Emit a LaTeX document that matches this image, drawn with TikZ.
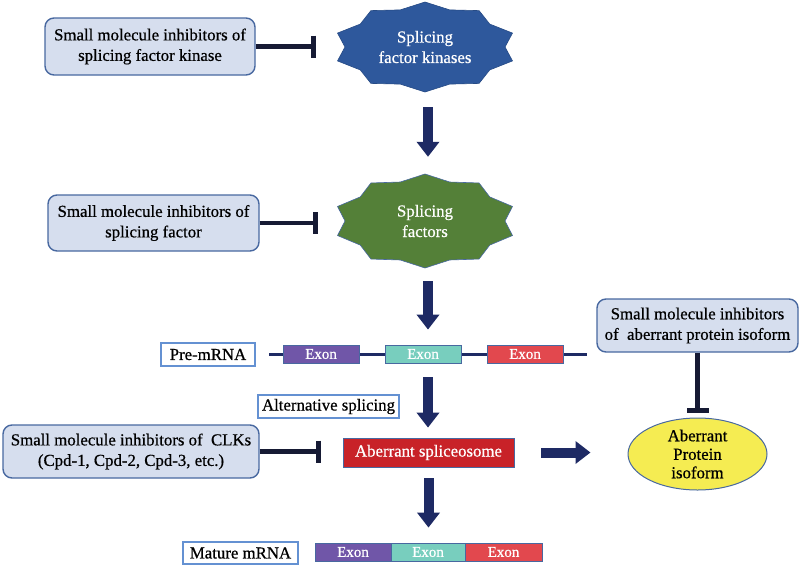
\documentclass[tikz,border=0pt]{standalone}
\usepackage{fontspec}
\setmainfont{Liberation Serif}
\newfontfamily\tnr{Liberation Serif}[FakeBold=0.6]
\usetikzlibrary{arrows.meta,shapes.geometric,calc}
\definecolor{boxfill}{RGB}{214,222,238}
\definecolor{boxline}{RGB}{72,104,160}
\definecolor{navy}{RGB}{30,42,100}
\definecolor{inhibc}{RGB}{22,26,52}
\definecolor{kinblue}{RGB}{46,88,156}
\definecolor{facgreen}{RGB}{84,128,56}
\definecolor{exonpurple}{RGB}{112,86,168}
\definecolor{exonteal}{RGB}{120,206,190}
\definecolor{exonred}{RGB}{226,72,78}
\definecolor{splred}{RGB}{200,34,40}
\definecolor{isoyellow}{RGB}{245,236,82}
\definecolor{labelline}{RGB}{100,145,210}
\begin{document}
\begin{tikzpicture}[x=1pt,y=-1pt,
 every node/.style={font=\tnr\fontsize{16.8}{20.5}\selectfont, inner sep=0pt, align=center},
 inhbox/.style={draw=boxline, fill=boxfill, line width=1.4pt, rounded corners=9pt},
 lblbox/.style={draw=labelline, fill=white, line width=1.2pt},
 exonbox/.style={draw=boxline, line width=0.8pt, minimum height=18pt, text=white, font=\tnr\fontsize{15}{16}\selectfont},
 bigarrow/.style={navy, line width=10pt, -{Triangle[width=22pt,length=15pt]}},
 inhib/.style={inhibc, line width=4.5pt, -{Bar[width=22pt,line width=4.5pt]}},
 starlbl/.style={text=white, minimum width=184pt, minimum height=90pt},
]
\useasboundingbox (0,0) rectangle (800,565);

% stars
\begin{scope}[shift={(425,47)}]
\draw[fill=kinblue, draw=kinblue!85!black, line width=0.6pt] (90:92 and 45)
  \foreach \a in {0,36,...,324}{ -- ({108+\a}:80 and 39) -- ({126+\a}:92 and 45)} -- cycle;
\end{scope}
\begin{scope}[shift={(425,221)}]
\draw[fill=facgreen, draw=boxline, line width=0.6pt] (90:92 and 47)
  \foreach \a in {0,36,...,324}{ -- ({108+\a}:80 and 41) -- ({126+\a}:92 and 47)} -- cycle;
\end{scope}
\node[starlbl] (kin) at (425,47) {Splicing\\factor kinases};
\node[starlbl, minimum height=94pt] (fac) at (425,221) {Splicing\\factors};

% inhibitor boxes
\node[inhbox, minimum width=210pt, minimum height=57pt] (inA) at (150,46.5) {Small molecule inhibitors of\\splicing factor kinase};
\node[inhbox, minimum width=211pt, minimum height=56pt] (inB) at (153.5,223) {Small molecule inhibitors of\\splicing factor};
\node[inhbox, minimum width=201pt, minimum height=53pt] (inC) at (697.5,325.5) {Small molecule inhibitors\\of~ aberrant protein isoform};
\node[inhbox, minimum width=256pt, minimum height=53pt] (inD) at (131,451.5) {Small molecule inhibitors of~ CLKs\\(Cpd-1, Cpd-2, Cpd-3, etc.)};

% pre-mRNA
\coordinate (l1) at (269,354);
\coordinate (l2) at (587,354);
\draw[navy, line width=3pt] (l1) -- (l2);
\node[exonbox, fill=exonpurple, minimum width=76pt] (ex1) at (321,354) {Exon};
\node[exonbox, fill=exonteal, minimum width=76pt] (ex2) at (423,354) {Exon};
\node[exonbox, fill=exonred, minimum width=76pt] (ex3) at (525,354) {Exon};
\node[lblbox, minimum width=94pt, minimum height=23pt] (pre) at (208,354.5) {Pre-mRNA};

\node[lblbox, minimum width=141pt, minimum height=23pt] (alt) at (328.5,406.5) {Alternative splicing};

\node[draw=boxline, line width=0.8pt, fill=splred, text=white, minimum width=171pt, minimum height=29pt] (spl) at (428.5,452.5) {Aberrant spliceosome};

% mature mRNA
\node[exonbox, fill=exonpurple, minimum width=76pt] (mx1) at (353,552) {Exon};
\node[exonbox, fill=exonteal, minimum width=74pt] (mx2) at (428,552) {Exon};
\node[exonbox, fill=exonred, minimum width=77pt] (mx3) at (503.5,552) {Exon};
\node[lblbox, minimum width=115pt, minimum height=22pt] (mat) at (240.5,553) {Mature mRNA};

\node[ellipse, draw=boxline, line width=1pt, fill=isoyellow, minimum width=139pt, minimum height=72pt, font=\tnr\fontsize{16.8}{18.5}\selectfont] (iso) at (697.5,454) {Aberrant\\Protein\\isoform};

% inhibition connectors
\draw[inhib, shorten >=17pt] (inA.east) -- (inA.east -| kin.west);
\draw[inhib, shorten >=15pt] (inB.east) -- (inB.east -| fac.west);
\draw[inhib, shorten >=22pt] (inD.east) -- (inD.east -| spl.west);
\draw[inhib, shorten >=5pt] (inC.south) -- (iso.north);

% big arrows
\draw[bigarrow, shorten <=15pt, shorten >=17pt] ([xshift=3pt]kin.south) -- ([xshift=3pt]fac.north);
\draw[bigarrow, shorten <=13pt, shorten >=15pt] ([xshift=3pt]fac.south) -- ([xshift=3pt]fac.south |- ex2.north);
\draw[bigarrow, shorten <=14pt, shorten >=10pt] ([xshift=3pt]fac.south |- ex2.south) -- ([xshift=3pt]fac.south |- spl.north);
\draw[bigarrow, shorten <=11pt, shorten >=15pt] (spl.south) -- (spl.south |- mx2.north);
\draw[bigarrow, shorten <=27pt, shorten >=37pt] (spl.east) -- (spl.east -| iso.west);
\end{tikzpicture}
\end{document}
